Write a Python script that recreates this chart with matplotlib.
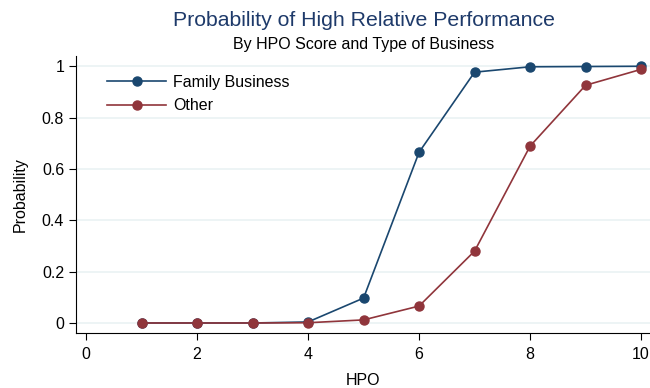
import matplotlib
matplotlib.use("Agg")
import matplotlib.pyplot as plt

plt.rcParams['font.family'] = ['Liberation Sans', 'DejaVu Sans']

hpo = [1, 2, 3, 4, 5, 6, 7, 8, 9, 10]
family = [0.0, 0.0, 0.0, 0.004, 0.097, 0.665, 0.977, 0.998, 0.999, 1.0]
other = [0.0, 0.0, 0.0, 0.001, 0.012, 0.066, 0.28, 0.689, 0.926, 0.988]

navy = "#1a476f"
maroon = "#90353b"

fig = plt.figure(figsize=(6.5, 3.88), dpi=100)
ax = fig.add_axes([76 / 650, 1 - 333 / 388, 574 / 650, (333 - 56) / 388])

ax.plot(hpo, family, color=navy, marker="o", markersize=6.5, linewidth=1.2, label="Family Business")
ax.plot(hpo, other, color=maroon, marker="o", markersize=6.5, linewidth=1.2, label="Other")

ax.set_xlim(-0.18, 10.16)
ax.set_ylim(-0.039, 1.04)
ax.set_xticks([0, 2, 4, 6, 8, 10])
ax.set_yticks([0, 0.2, 0.4, 0.6, 0.8, 1])
ax.set_yticklabels(["0", "0.2", "0.4", "0.6", "0.8", "1"])
ax.grid(axis="y", color="#eaf2f3", linewidth=1.2)
ax.set_axisbelow(True)
for s in ["top", "right"]:
    ax.spines[s].set_visible(False)
ax.spines["left"].set_color("black")
ax.spines["bottom"].set_color("black")
ax.tick_params(direction="out", length=5, labelsize=11.5, colors="black")
ax.tick_params(axis="x", pad=5)

ax.set_xlabel("HPO", fontsize=11.5, labelpad=8)
ax.set_ylabel("Probability", fontsize=11.5, labelpad=10)

ax.legend(loc="upper left", frameon=False, fontsize=11.5, handlelength=3.7,
          handletextpad=0.45, bbox_to_anchor=(0.029, 0.985), labelspacing=0.55)

fig.text(0.56, 1 - 20 / 388, "Probability of High Relative Performance",
         ha="center", va="center", fontsize=15.3, color="#1e3a6a")
fig.text(0.56, 1 - 45 / 388, "By HPO Score and Type of Business",
         ha="center", va="center", fontsize=11.5, color="black")

fig.savefig("out.png", dpi=100)
